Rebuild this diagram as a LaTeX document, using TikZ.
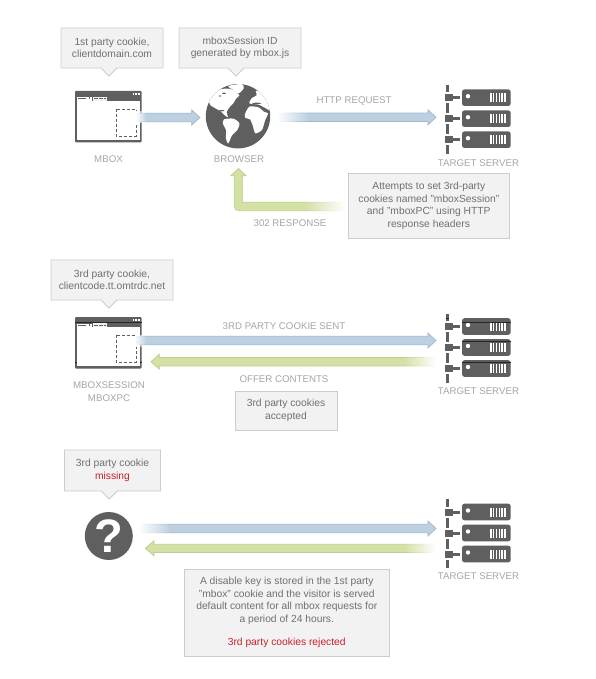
\documentclass[tikz,border=0pt]{standalone}
\usepackage{fontspec}
\setmainfont{Liberation Sans}
\usetikzlibrary{shapes.geometric,fadings}
\definecolor{boxfill}{HTML}{F2F2F2}
\definecolor{boxline}{HTML}{CCCCCC}
\definecolor{txt}{HTML}{707070}
\definecolor{lbl}{HTML}{A6A6A6}
\definecolor{dark}{HTML}{5F5F5F}
\definecolor{blueF}{HTML}{BDD0E2}
\definecolor{blueL}{HTML}{9DB7CF}
\definecolor{greenF}{HTML}{D3E0A6}
\definecolor{greenL}{HTML}{BCCF85}
\definecolor{alert}{HTML}{C8202A}
\tikzset{
 notetext/.style={text=txt,font=\fontsize{10.3}{12.5}\selectfont,align=center,inner sep=0pt},
 note/.style={notetext,draw=boxline,fill=boxfill,line width=.8pt},
 lab/.style={text=lbl,font=\fontsize{9.7}{12.5}\selectfont,align=center,inner sep=0pt},
 blockB/.style={draw=blueL,fill=blueF,line width=.7pt},
 blockG/.style={draw=greenL,fill=greenF,line width=.7pt},
}
\newcommand{\notebox}[7]{% name x1 y1 x2 y2 tipx text
 \path[draw=boxline,fill=boxfill,line width=.8pt] (#2,#3) -- (#4,#3) -- (#4,#5) -- (#6+8,#5) -- (#6,#5+8) -- (#6-8,#5) -- (#2,#5) -- cycle;
 \node[notetext] (#1) at ({(#2+#4)/2},{(#3+#5)/2}) {#7};
}
\newcommand{\plainbox}[6]{%
 \node[note,minimum width=#4-#2,minimum height=#5-#3] (#1) at ({(#2+#4)/2},{(#3+#5)/2}) {#6};
}
% arrows: start-x, centre-y, base-x, tip-x
\newcommand{\fatarrow}[5]{%
 \path[#1] (#2,#3-4.2) -- (#4,#3-4.2) -- (#4,#3-7.5) -- (#5,#3) -- (#4,#3+7.5) -- (#4,#3+4.2) -- (#2,#3+4.2) -- cycle;
}
\newcommand{\fadeE}[3]{\fill[white,path fading=east] (#1-1,#3-6) rectangle (#2,#3+6);}
\newcommand{\fadeW}[3]{\fill[white,path fading=west] (#1,#3-6) rectangle (#2+1,#3+6);}
\newcommand{\serverrack}[3]{% name x y
 \coordinate (#1) at (#2,#3);
 \begin{scope}[shift={(#2,#3)}]
  \fill[dark] (-1.5,-34) rectangle (1.5,-26.5);
  \fill[dark] (-1.5,-15.5) rectangle (1.5,-5.5);
  \fill[dark] (-1.5,5.5) rectangle (1.5,15.5);
  \fill[dark] (-1.5,26.5) rectangle (1.5,35);
  \foreach \d in {-21,0,21}{
   \fill[dark] (-2.5,\d-3.5) rectangle (5,\d+3.5);
   \fill[dark] (5,\d-1.5) rectangle (12.5,\d+1.5);
   \fill[dark,rounded corners=2.5pt] (14.5,\d-8.3) rectangle (63.2,\d+8.3);
   \fill[white] (20.5,\d-1.5) circle (2.2);
   \foreach \k in {0,...,5} \fill[white] (42.7+\k*2.8,\d-4.5) rectangle (44+\k*2.8,\d+4.5);
  }
 \end{scope}
}
\newcommand{\windowicon}[2]{% x y top-left
 \begin{scope}[shift={(#1,#2)}]
  \fill[dark,rounded corners=1pt] (0,0) rectangle (66.7,51.5);
  \fill[white] (2,10) rectangle (64.7,48.7);
  \fill[white] (2,6.5) rectangle (16.5,10);
  \fill[dark] (3,7.5) rectangle (11,8.5);
  \fill[dark] (13.5,6.5) rectangle (15,8.5);
  \fill[boxfill] (18,6) rectangle (31.7,10);
  \draw[dark,line width=1pt,dash pattern=on 4pt off 1pt] (19,8) -- (31,8);
  \foreach \k in {0,1,2} \fill[white] (57.5+\k*2.7,2.2) rectangle (59.4+\k*2.7,4.2);
  \draw[dark,line width=.9pt,dash pattern=on 3pt off 2pt] (41,18) rectangle (61,45);
 \end{scope}
}
\begin{document}
\begin{tikzpicture}[x=1pt,y=-1pt]
\useasboundingbox (0,0) rectangle (596,679);
\fill[white] (0,0) rectangle (596,679);
% --- row 1
\notebox{n1}{61}{28}{163}{68}{109}{1st party cookie,\\clientdomain.com}
\notebox{n2}{179}{28}{301}{68}{236}{mboxSession ID\\generated by mbox.js}
\windowicon{75}{91}
\node[lab] (mbox) at (108.5,159.5) {MBOX};
% globe
\node[circle,fill=dark,minimum size=64.4pt,inner sep=0pt] (globe) at (238,116.2) {};
\begin{scope}
 \clip (238,116.2) circle (32.2);
 \begin{scope}[shift={(200,80)},scale=.3333]
  \fill[white] plot[smooth cycle,tension=.45] coordinates {(28,58) (45,38) (62,28) (85,26) (104,32) (118,46) (108,56) (100,70) (90,80) (80,96) (84,112) (72,104) (62,94) (48,86) (30,74)};
  \fill[white] plot[smooth cycle,tension=.45] coordinates {(72,118) (100,116) (118,130) (112,150) (96,166) (85,190) (78,176) (78,150) (69,132)};
  \fill[white] plot[smooth cycle,tension=.45] coordinates {(85,18) (125,12) (131,25) (116,40) (100,30)};
  \fill[white] plot[smooth cycle,tension=.4] coordinates {(135,102) (148,80) (175,82) (193,96) (204,100) (195,122) (186,150) (166,160) (158,136) (150,118) (136,114)};
  \fill[white] plot[smooth cycle,tension=.4] coordinates {(148,70) (156,54) (170,46) (168,32) (190,42) (206,68) (212,92) (196,84) (176,74)};
  \fill[dark] (60,48) ellipse (5 and 2) (72,40) ellipse (6 and 2) (65,92) ellipse (8 and 2) (170,70) ellipse (14 and 2);
 \end{scope}
\end{scope}
\node[lab] (browser) at (239,159.5) {BROWSER};
% arrows row 1
\fatarrow{blockB}{137}{117.5}{191.7}{200}
\fadeE{137}{146}{117.5}
\fatarrow{blockB}{278}{117.3}{428}{436}
\fadeE{278}{308}{117.3}
\serverrack{s1}{447.5}{118.7}
\node[lab] (t1) at (478.5,163) {TARGET SERVER};
\node[lab] (http) at (354,101.5) {HTTP REQUEST};
% green elbow
\path[blockG] (343,202.3) -- (242.3,202.3) -- (242.3,175.7) -- (246,175.7) -- (238.5,168.3) -- (231,175.7) -- (234.3,175.7) -- (234.3,206) .. controls (234.3,209) and (236,210.7) .. (239,210.7) -- (343,210.7) -- cycle;
\fill[white,path fading=west] (305,200) rectangle (345,213);
\node[lab] (r302) at (290,222.7) {302 RESPONSE};
\plainbox{n3}{348.3}{173.5}{509.3}{238.3}{Attempts to set 3rd-party\\cookies named "mboxSession"\\and "mboxPC" using HTTP\\response headers}
% --- row 2
\notebox{n4}{51}{260}{173}{300}{109}{3rd party cookie,\\clientcode.tt.omtrdc.net}
\windowicon{75}{317}
\draw[black!85,line width=.7pt] (75,322.5) -- (141.7,322.5);
\draw[black!85,line width=.7pt] (75,362) -- (77,362) (139.7,362) -- (141.7,362);
\node[lab] (mbs) at (109,391.5) {MBOXSESSION\\MBOXPC};
\fatarrow{blockB}{137}{340.5}{428}{436}
\fadeE{136}{146}{340.5}
\fatarrow{blockG}{435}{361.7}{159.3}{151}
\fadeW{403}{435}{361.7}
\serverrack{s2}{447.5}{347.5}
\draw[black!85,line width=.7pt] (462,322.5) -- (510.7,322.5) (462,341.5) -- (510.7,341.5) (462,362.5) -- (510.7,362.5) (446,318) -- (449,318);
\node[lab] (t2) at (478.5,391) {TARGET SERVER};
\node[lab] (sent) at (284,326) {3RD PARTY COOKIE SENT};
\node[lab] (offer) at (284,379) {OFFER CONTENTS};
\plainbox{n5}{235}{391}{337}{430}{3rd party cookies\\accepted}
% --- row 3
\notebox{n6}{64.5}{450}{160.5}{491}{109.3}{3rd party cookie\\\textcolor{alert}{missing}}
\node[circle,fill=dark,minimum size=48pt,inner sep=0pt] (q) at (108.8,536) {};
\node[text=white,font=\fontsize{47}{47}\selectfont\bfseries,inner sep=0pt] at (q) {?};
\fatarrow{blockB}{140}{528.5}{428}{436}
\fadeE{140}{170}{528.5}
\fatarrow{blockG}{435}{548.3}{154}{145.3}
\fadeW{403}{435}{548.3}
\serverrack{s3}{447.5}{533}
\node[lab] (t3) at (478.5,576.5) {TARGET SERVER};
\plainbox{n7}{184}{569}{389.5}{656}{A disable key is stored in the 1st party\\"mbox" cookie and the visitor is served\\default content for all mbox requests for\\a period of 24 hours.\\[11pt]\textcolor{alert}{3rd party cookies rejected}}
\end{tikzpicture}
\end{document}
